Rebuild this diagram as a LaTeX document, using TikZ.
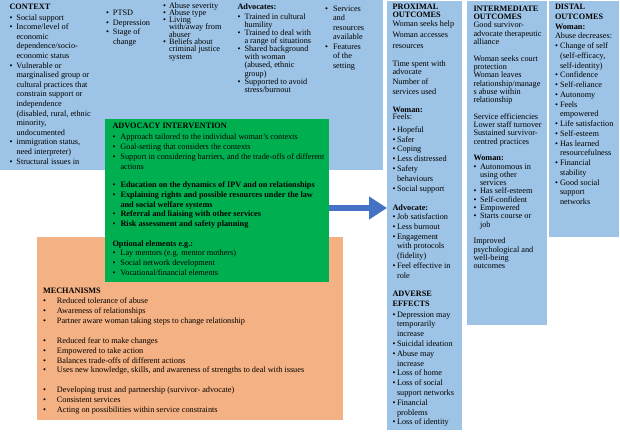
\documentclass[tikz,border=0pt]{standalone}
\usepackage{fontspec}
\setmainfont{Liberation Serif}
\usetikzlibrary{arrows.meta}
\definecolor{ctxblue}{HTML}{9DC3E6}
\definecolor{ivgreen}{HTML}{00B050}
\definecolor{mechorange}{HTML}{F4B183}
\definecolor{arrowblue}{HTML}{4472C4}
\newcommand{\bul}[1][7pt]{\makebox[#1][l]{\textbullet}\ignorespaces}
\newcommand{\cnt}[1][7pt]{\hspace*{#1}\ignorespaces}
\newcommand{\firstline}{\vrule width 0pt height 6pt depth 0pt\relax}
\newcommand{\setfs}[1]{\fontsize{8.25}{#1}\selectfont\lineskiplimit -20pt\relax}
\begin{document}
\begin{tikzpicture}[x=1pt,y=-1pt,
  box/.style={anchor=north west, inner sep=0pt, outer sep=0pt, draw=none},
  txt/.style={anchor=north west, inner sep=0pt, outer sep=0pt, align=left},
  fs/.style={font={\setfs{#1}}}
]
\useasboundingbox (0,0) rectangle (620,434);
% boxes
\node[box, fill=ctxblue, minimum width=383pt, minimum height=170pt] (ctx) at (0,0) {};
\node[box, fill=mechorange, minimum width=306pt, minimum height=183pt] (mech) at (37,237) {};
\node[box, fill=ivgreen, minimum width=224pt, minimum height=163pt] (gbox) at (105,119) {};
\node[box, fill=ctxblue, minimum width=75pt, minimum height=429pt] (prox) at (387,1) {};
\node[box, fill=ctxblue, minimum width=80pt, minimum height=324pt] (inter) at (467,1) {};
\node[box, fill=ctxblue, minimum width=70pt, minimum height=236pt] (dist) at (549,1) {};

% context columns
\node[txt, fs=9.6] (c1) at (9.5,3.5) {\firstline\textbf{CONTEXT}\\[0.9pt]
\bul Social support\\
\bul Income/level of\\
\cnt economic\\
\cnt dependence/socio-\\
\cnt economic status\\
\bul Vulnerable or\\
\cnt marginalised group or\\
\cnt cultural practices that\\
\cnt constrain support or\\
\cnt independence\\
\cnt (disabled, rural, ethnic\\
\cnt minority,\\
\cnt undocumented\\
\bul immigration status,\\
\cnt need interpreter)\\
\bul Structural issues in};

\node[txt, fs=9.7] (c2) at (106,9.5) {\firstline\bul PTSD\\
\bul Depression\\
\bul Stage of\\
\cnt change};

\node[txt, fs=7.3] (c3) at (163,2) {\firstline\bul[6pt] Abuse severity\\
\bul[6pt] Abuse type\\
\bul[6pt] Living\\
\cnt[6pt] with/away from\\
\cnt[6pt] abuser\\
\bul[6pt] Beliefs about\\
\cnt[6pt] criminal justice\\
\cnt[6pt] system};

\node[txt, fs=8.1] (c4) at (237.5,3.3) {\firstline\textbf{Advocates:}\\[1.9pt]
\bul Trained in cultural\\
\cnt humility\\
\bul Trained to deal with\\
\cnt a range of situations\\
\bul Shared background\\
\cnt with woman\\
\cnt (abused, ethnic\\
\cnt group)\\
\bul Supported to avoid\\
\cnt stress/burnout};

\node[txt, fs=9.5] (c5) at (325,5) {\firstline\bul[8pt] Services\\
\cnt[8pt] and\\
\cnt[8pt] resources\\
\cnt[8pt] available\\
\bul[8pt] Features\\
\cnt[8pt] of the\\
\cnt[8pt] setting};

% advocacy intervention
\node[txt, fs=9.8] (gtext) at (112.5,122.7) {\firstline\textbf{ADVOCACY INTERVENTION}\\[1.2pt]
\bul[8pt] Approach tailored to the individual woman's contexts\\
\bul[8pt] Goal-setting that considers the contexts\\
\bul[8pt] Support in considering barriers, and the trade-offs of different\\
\cnt[8pt] actions\\[8.5pt]
\bul[8pt] \textbf{Education on the dynamics of IPV and on relationships}\\
\bul[8pt] \textbf{Explaining rights and possible resources under the law}\\
\cnt[8pt] \textbf{and social welfare systems}\\
\bul[8pt] \textbf{Referral and liaising with other services}\\
\bul[8pt] \textbf{Risk assessment and safety planning}\\[9.7pt]
\textbf{Optional elements e.g.:}\\
\bul[8pt] Lay mentors (e.g. mentor mothers)\\
\bul[8pt] Social network development\\
\bul[8pt] Vocational/financial elements};

% mechanisms
\node[txt, fs=9.9] (mtext) at (43,287.7) {\firstline\textbf{MECHANISMS}\\
\bul[14pt] Reduced tolerance of abuse\\
\bul[14pt] Awareness of relationships\\
\bul[14pt] Partner aware woman taking steps to change relationship\\[9.9pt]
\bul[14pt] Reduced fear to make changes\\
\bul[14pt] Empowered to take action\\
\bul[14pt] Balances trade-offs of different actions\\
\bul[14pt] Uses new knowledge, skills, and awareness of strengths to deal with issues\\[9.9pt]
\bul[14pt] Developing trust and partnership (survivor- advocate)\\
\bul[14pt] Consistent services\\
\bul[14pt] Acting on possibilities within service constraints};

% proximal
\node[txt, fs=9.8] (ptext) at (392.5,3.3) {\firstline\textbf{PROXIMAL}\\[-1.4pt]
\textbf{OUTCOMES}\\[-1.5pt]
Woman seeks help\\[1.2pt]
Woman accesses\\[1.2pt]
resources\\[8.2pt]
Time spent with\\[-1.1pt]
advocate\\
Number of\\
services used\\[8.2pt]
\textbf{Woman:}\\[-2.2pt]
Feels:\\[2.6pt]
\bul[4.5pt] Hopeful\\
\bul[4.5pt] Safer\\
\bul[4.5pt] Coping\\
\bul[4.5pt] Less distressed\\
\bul[4.5pt] Safety\\
\cnt[4.5pt] behaviours\\
\bul[4.5pt] Social support\\[9.9pt]
\textbf{Advocate:}\\[-1.2pt]
\bul[4.5pt] Job satisfaction\\
\bul[4.5pt] Less burnout\\
\bul[4.5pt] Engagement\\
\cnt[4.5pt] with protocols\\
\cnt[4.5pt] (fidelity)\\
\bul[4.5pt] Feel effective in\\
\cnt[4.5pt] role\\[8.6pt]
\textbf{ADVERSE}\\
\textbf{EFFECTS}\\[0.8pt]
\bul[4.5pt] Depression may\\
\cnt[4.5pt] temporarily\\
\cnt[4.5pt] increase\\
\bul[4.5pt] Suicidal ideation\\
\bul[4.5pt] Abuse may\\
\cnt[4.5pt] increase\\
\bul[4.5pt] Loss of home\\
\bul[4.5pt] Loss of social\\
\cnt[4.5pt] support networks\\
\bul[4.5pt] Financial\\
\cnt[4.5pt] problems\\
\bul[4.5pt] Loss of identity};

% intermediate
\node[txt, fs=8.3] (itext) at (473.5,5.3) {\firstline\textbf{INTERMEDIATE}\\
\textbf{OUTCOMES}\\
Good survivor-\\
advocate therapeutic\\
alliance\\[8.3pt]
Woman seeks court\\
protection\\
Woman leaves\\
relationship/manage\\
s abuse within\\
relationship\\[8.3pt]
Service efficiencies\\
Lower staff turnover\\
Sustained survivor-\\
centred practices\\[8.3pt]
\textbf{Woman:}\\
\bul[6.5pt] Autonomous in\\
\cnt[6.5pt] using other\\
\cnt[6.5pt] services\\
\bul[6.5pt] Has self-esteem\\
\bul[6.5pt] Self-confident\\
\bul[6.5pt] Empowered\\
\bul[6.5pt] Starts course or\\
\cnt[6.5pt] job\\[8.3pt]
Improved\\
psychological and\\
well-being\\
outcomes};

% distal
\node[txt, fs=9.75] (dtext) at (555,3.5) {\firstline\textbf{DISTAL}\\
\textbf{OUTCOMES}\\
\textbf{Woman:}\\
Abuse decreases:\\
\bul[5pt] Change of self\\
\cnt[5pt] (self-efficacy,\\
\cnt[5pt] self-identity)\\
\bul[5pt] Confidence\\
\bul[5pt] Self-reliance\\
\bul[5pt] Autonomy\\
\bul[5pt] Feels\\
\cnt[5pt] empowered\\
\bul[5pt] Life satisfaction\\
\bul[5pt] Self-esteem\\
\bul[5pt] Has learned\\
\cnt[5pt] resourcefulness\\
\bul[5pt] Financial\\
\cnt[5pt] stability\\
\bul[5pt] Good social\\
\cnt[5pt] support\\
\cnt[5pt] networks};

% arrow
\coordinate (arrowy) at (0,208);
\draw[arrowblue, line width=6.7pt, -{Triangle[length=18pt,width=22pt]}]
  (gbox.east |- arrowy) -- (prox.west |- arrowy);
\end{tikzpicture}
\end{document}
